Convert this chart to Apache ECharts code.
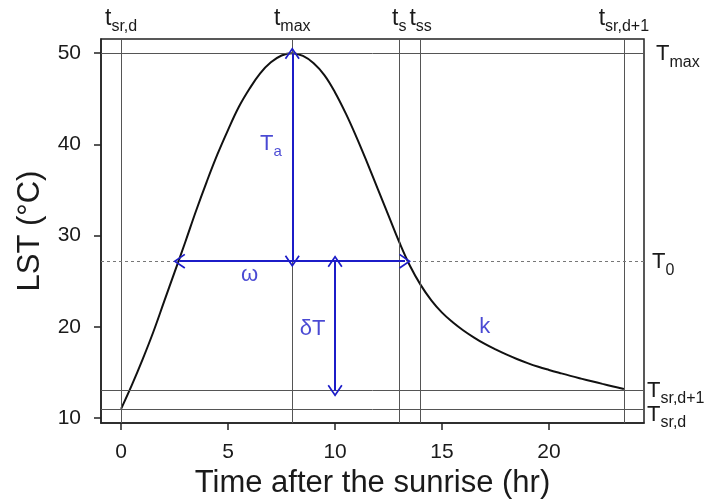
<!DOCTYPE html>
<html>
<head>
<meta charset="utf-8">
<script src="https://cdn.jsdelivr.net/npm/echarts@6/dist/echarts.min.js"></script>
<style>
html,body{margin:0;padding:0;background:#fff;}
#chart{width:715px;height:504px;}
</style>
</head>
<body>
<div id="chart"></div>
<script>
// ---- data ----
const hours = [0, 0.5, 1, 1.5, 2, 2.5, 3, 3.5, 4, 4.5, 5, 5.5, 6, 6.5, 7, 7.5, 8, 8.5, 9, 9.5, 10, 10.5, 11, 11.5, 12, 12.5, 13, 13.5, 14, 14.5, 15, 15.5, 16, 16.5, 17, 17.5, 18, 18.5, 19, 19.5, 20, 20.5, 21, 21.5, 22, 22.5, 23, 23.5];
const lst = [11.0, 13.6, 16.4, 19.4, 22.7, 26.0, 29.3, 32.7, 35.9, 38.9, 41.6, 44.1, 46.1, 47.8, 49.0, 49.75, 50.0, 49.7, 48.9, 47.6, 45.7, 43.4, 40.8, 38.0, 35.1, 32.2, 29.3, 26.7, 24.6, 22.9, 21.55, 20.5, 19.6, 18.82, 18.12, 17.52, 16.97, 16.47, 16.02, 15.62, 15.27, 14.94, 14.62, 14.32, 14.03, 13.74, 13.46, 13.18];

const xTicks = [0, 5, 10, 15, 20];
const yTicks = [10, 20, 30, 40, 50];
const xRange = [-0.94, 24.44];
const yRange = [9.44, 51.56];

// vertical reference times and their labels (main, subscript)
const refTimes = [0, 8, 13, 14, 23.5];
const refTimeLabels = [['t', 'sr,d'], ['t', 'max'], ['t', 's'], ['t', 'ss'], ['t', 'sr,d+1']];
// horizontal reference temperatures and labels
const refTemps = [50, 27.2, 13, 11];
const refTempLabels = [['T', 'max'], ['T', '0'], ['T', 'sr,d+1'], ['T', 'sr,d']];
const dashedTemp = 27.2;

// parameter arrows (start, end)
const taArrow = [[8, 27.2], [8, 50]];
const omegaArrow = [[2.72, 27.2], [13.27, 27.2]];
const deltaTArrow = [[10, 27.2], [10, 13]];

// annotation texts [x, y, main, subscript]
const annotations = [
  [7.0, 39.9, 'T', 'a'],
  [6.0, 25.6, 'ω', ''],
  [8.95, 19.7, 'δT', ''],
  [17.0, 19.9, 'k', '']
];

// ---- chart ----
const FONT = '"Liberation Sans", Arial, Helvetica, sans-serif';
const BLUE = '#1c1cc8';
const INK = '#1a1a1a';
const chev = 'path://M7.5,0 L15,11 L13.6,12 L7.5,3 L1.4,12 L0,11 Z';
// label nudges for the right-hand labels (pixels)
const rightLabelNudge = [[4, 2], [0, 2], [-5, 1], [-5, 7]];

function richFor(color, big, small) {
  return {
    m: {fontSize: big, lineHeight: big + 2, verticalAlign: 'top', fontFamily: FONT, color: color},
    s: {fontSize: small, lineHeight: small, padding: [Math.round(big * 0.5), 0, 0, 0], verticalAlign: 'top', fontFamily: FONT, color: color}
  };
}
function fmt(main, sub) {
  return sub ? '{m|' + main + '}{s|' + sub + '}' : '{m|' + main + '}';
}

const vLineData = refTimes.map((t, i) => ({
  xAxis: t,
  label: {show: true, position: 'end', distance: 7, formatter: fmt(refTimeLabels[i][0], refTimeLabels[i][1]), rich: richFor(INK, 23, 16)}
}));
const hLineData = refTemps.map((v, i) => ({
  yAxis: v,
  lineStyle: v === dashedTemp ? {type: [3, 3], color: '#777', width: 1} : undefined,
  label: {show: true, position: 'end', distance: 8, offset: rightLabelNudge[i], formatter: fmt(refTempLabels[i][0], refTempLabels[i][1]), rich: richFor(INK, 22, 16)}
}));

function arrowLine(a) {
  return [{coord: a[0]}, {coord: a[1]}];
}

const chart = echarts.init(document.getElementById('chart'), null, {renderer: 'canvas'});
chart.setOption({
  animation: false,
  backgroundColor: '#fff',
  grid: {left: 101, right: 71, top: 39, bottom: 78, show: true, borderColor: '#222', borderWidth: 1.5, backgroundColor: 'transparent'},
  xAxis: {
    type: 'value', min: xRange[0], max: xRange[1],
    name: 'Time after the sunrise (hr)', nameLocation: 'middle', nameGap: 60,
    nameTextStyle: {fontFamily: FONT, fontSize: 31, color: INK, verticalAlign: 'middle'},
    axisLine: {show: true, onZero: false, lineStyle: {color: '#222', width: 1.5}},
    axisTick: {show: true, inside: false, length: 7, customValues: xTicks, lineStyle: {color: '#222', width: 1.5}},
    axisLabel: {show: true, customValues: xTicks, margin: 19, fontFamily: FONT, fontSize: 21, color: INK},
    splitLine: {show: false}
  },
  yAxis: {
    type: 'value', min: yRange[0], max: yRange[1],
    name: 'LST (°C)', nameLocation: 'middle', nameGap: 71,
    nameTextStyle: {fontFamily: FONT, fontSize: 31, color: INK, verticalAlign: 'middle'},
    axisLine: {show: true, onZero: false, lineStyle: {color: '#222', width: 1.5}},
    axisTick: {show: true, inside: false, length: 7, customValues: yTicks, lineStyle: {color: '#222', width: 1.5}},
    axisLabel: {show: true, customValues: yTicks, margin: 20, fontFamily: FONT, fontSize: 21, color: INK},
    splitLine: {show: false}
  },
  series: [
    {
      type: 'line', name: 'refs', data: [], clip: false, silent: true,
      markLine: {
        silent: true, symbol: 'none', animation: false,
        lineStyle: {color: '#555', width: 1, type: 'solid'},
        emphasis: {disabled: true},
        data: vLineData.concat(hLineData)
      }
    },
    {
      type: 'line', name: 'LST', data: hours.map((h, i) => [h, lst[i]]),
      showSymbol: false, symbol: 'none', smooth: 0.4, silent: true,
      lineStyle: {color: '#111', width: 2}, z: 3
    },
    {
      type: 'line', name: 'arrows', data: [], clip: false, silent: true, z: 4,
      markLine: {
        silent: true, animation: false,
        symbol: [chev, chev], symbolSize: [15, 12],
        lineStyle: {color: BLUE, width: 2, type: 'solid'},
        label: {show: false},
        emphasis: {disabled: true},
        data: [arrowLine(taArrow), arrowLine(omegaArrow), arrowLine(deltaTArrow)]
      }
    },
    {
      type: 'scatter', name: 'notes', silent: true, z: 5,
      symbolSize: 0,
      data: annotations.map(a => ({value: [a[0], a[1]], label: {formatter: fmt(a[2], a[3])}})),
      label: {show: true, position: 'inside', rich: richFor(BLUE, 22, 15)}
    }
  ]
});
</script>
</body>
</html>
